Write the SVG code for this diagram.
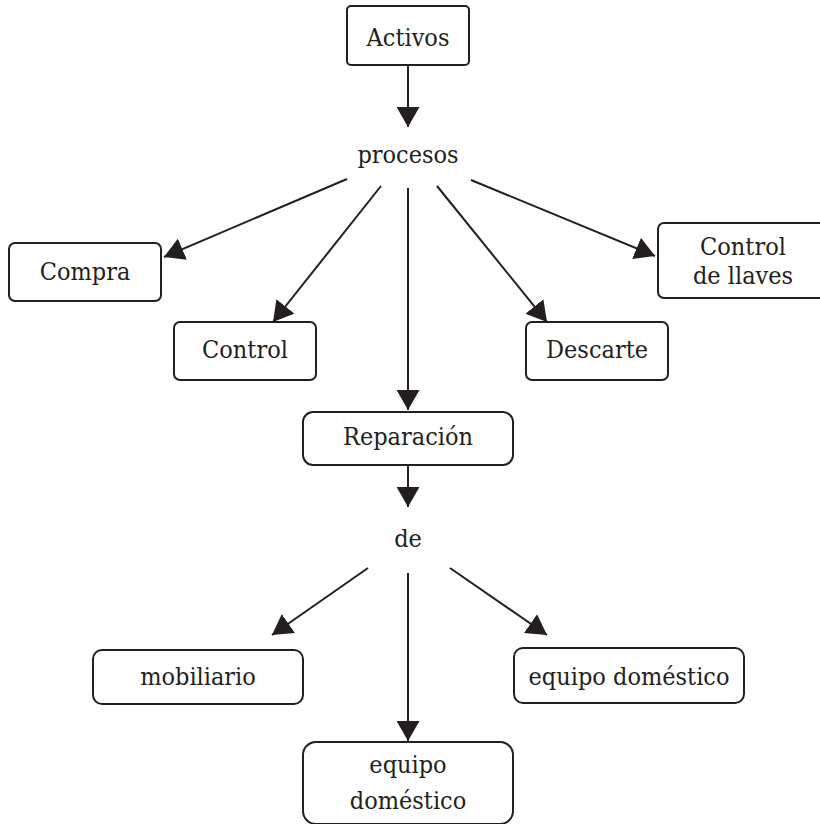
<svg xmlns="http://www.w3.org/2000/svg" width="820" height="824" viewBox="0 0 820 824">
<style>
.box{fill:#fff;stroke:#231f20;stroke-width:2}
.lbl{font-family:"DejaVu Serif",serif;font-stretch:condensed;font-size:25px;fill:#231f20;text-anchor:middle}
.edge{stroke:#231f20;stroke-width:2;fill:none;marker-end:url(#ah)}
</style>
<defs>
<marker id="ah" viewBox="0 0 20 23" markerWidth="20" markerHeight="23" refX="20" refY="11.5" orient="auto" markerUnits="userSpaceOnUse">
<path d="M0,0 L20,11.5 L0,23 z" fill="#231f20"/>
</marker>
</defs>
<rect width="820" height="824" fill="#fff"/>
<g id="connectors">
<line class="edge" x1="408" y1="65" x2="408" y2="127"/>
<line class="edge" x1="347" y1="179" x2="164" y2="257"/>
<line class="edge" x1="381" y1="186" x2="273" y2="322"/>
<line class="edge" x1="408" y1="188" x2="408" y2="410"/>
<line class="edge" x1="437" y1="186" x2="547" y2="322"/>
<line class="edge" x1="471" y1="180" x2="655" y2="256"/>
<line class="edge" x1="408" y1="465" x2="408" y2="507"/>
<line class="edge" x1="368" y1="568" x2="272" y2="635"/>
<line class="edge" x1="408" y1="573" x2="408" y2="741"/>
<line class="edge" x1="450" y1="568" x2="547" y2="635"/>
</g>
<g id="activos">
<rect class="box" x="347" y="6" width="122" height="59" rx="4"/>
<text class="lbl" x="408" y="46">Activos</text>
</g>
<g id="procesos">
<text class="lbl" x="408" y="163">procesos</text>
</g>
<g id="compra">
<rect class="box" x="9" y="243" width="152" height="58" rx="6"/>
<text class="lbl" x="85" y="280">Compra</text>
</g>
<g id="control">
<rect class="box" x="174" y="322" width="142" height="58" rx="6"/>
<text class="lbl" x="245" y="358">Control</text>
</g>
<g id="descarte">
<rect class="box" x="526" y="322" width="142" height="58" rx="6"/>
<text class="lbl" x="597" y="358">Descarte</text>
</g>
<g id="control-llaves">
<rect class="box" x="658" y="223" width="180" height="75" rx="6"/>
<text class="lbl" x="743" y="255">Control</text>
<text class="lbl" x="743" y="284">de llaves</text>
</g>
<g id="reparacion">
<rect class="box" x="303" y="412" width="210" height="53" rx="10"/>
<text class="lbl" x="408" y="445">Reparación</text>
</g>
<g id="de">
<text class="lbl" x="408" y="547">de</text>
</g>
<g id="mobiliario">
<rect class="box" x="93" y="650" width="210" height="54" rx="9"/>
<text class="lbl" x="198" y="685">mobiliario</text>
</g>
<g id="equipo-domestico-1">
<rect class="box" x="514" y="648" width="230" height="55" rx="9"/>
<text class="lbl" x="629" y="685">equipo doméstico</text>
</g>
<g id="equipo-domestico-2">
<rect class="box" x="303" y="742" width="210" height="82" rx="13"/>
<text class="lbl" x="408" y="773">equipo</text>
<text class="lbl" x="408" y="809">doméstico</text>
</g>
</svg>
